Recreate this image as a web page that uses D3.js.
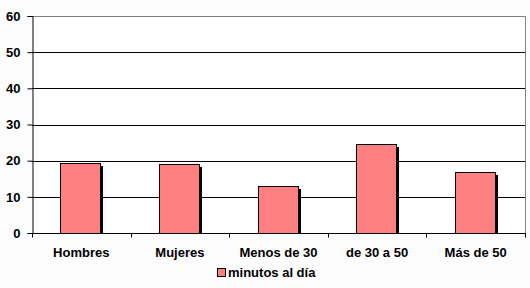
<!DOCTYPE html>
<html lang="es">
<head>
<meta charset="UTF-8">
<title>minutos al día</title>
<script src="https://cdn.jsdelivr.net/npm/d3@7"></script>
<style>
    body { margin: 0; background: #fcfcfc; }
    text { font-family: "Liberation Sans", Arial, sans-serif; font-weight: bold; font-size: 13px; fill: #000; }
</style>
</head>
<body>
<div id="chart"></div>
<script>
    const categories = ["Hombres", "Mujeres", "Menos de 30", "de 30 a 50", "Más de 50"];
    const values = [19.3, 19.0, 12.9, 24.5, 16.8];
    const yTicks = [0, 10, 20, 30, 40, 50, 60];
    const seriesName = "minutos al día";

    const width = 530, height = 288;
    const plot = {left: 32, right: 525, top: 16, bottom: 233};

    const svg = d3.select("#chart").append("svg")
        .attr("width", width)
        .attr("height", height);

    const x = d3.scaleBand()
        .domain(categories)
        .range([plot.left, plot.right]);

    const y = d3.scaleLinear()
        .domain([0, 60])
        .range([plot.bottom, plot.top]);

    // plot area
    svg.append("rect")
        .attr("x", plot.left).attr("y", plot.top)
        .attr("width", plot.right - plot.left).attr("height", plot.bottom - plot.top)
        .attr("fill", "#fff");

    // gridlines
    svg.append("g").selectAll("line")
        .data(yTicks.filter(d => d > 0 && d < 60))
        .join("line")
        .attr("x1", plot.left).attr("x2", plot.right)
        .attr("y1", d => Math.round(y(d)) + 0.5).attr("y2", d => Math.round(y(d)) + 0.5)
        .attr("stroke", "#000");

    // gray top/right border
    svg.append("path")
        .attr("d", `M${plot.left},${plot.top + 0.5}H${plot.right + 0.5}V${plot.bottom}`)
        .attr("fill", "none")
        .attr("stroke", "#808080");

    // bars with shadow
    const barW = 40;
    const bars = svg.append("g").selectAll("g")
        .data(values)
        .join("g")
        .attr("transform", (d, i) => `translate(${Math.round(x(categories[i]) + x.bandwidth() / 2 - barW / 2 - 1)},0)`);

    bars.append("rect")
        .attr("x", 3)
        .attr("y", d => Math.round(y(d)) + 3)
        .attr("width", barW)
        .attr("height", d => plot.bottom - Math.round(y(d)) - 3)
        .attr("fill", "#000");

    bars.append("rect")
        .attr("x", 0.5)
        .attr("y", d => Math.round(y(d)) + 0.5)
        .attr("width", barW)
        .attr("height", d => plot.bottom - Math.round(y(d)))
        .attr("fill", "#ff8080")
        .attr("stroke", "#000");

    // y axis
    const yAxis = svg.append("g")
        .attr("transform", `translate(${plot.left + 0.5},0)`)
        .call(d3.axisLeft(y).tickValues(yTicks).tickSize(5).tickPadding(7));
    yAxis.select(".domain").attr("stroke", "#000");
    yAxis.selectAll("line").attr("stroke", "#000");
    yAxis.selectAll("text").attr("font-size", null).attr("font-family", null);

    // x axis
    const xAxis = svg.append("g")
        .attr("transform", `translate(0,${plot.bottom + 0.5})`);
    xAxis.append("line")
        .attr("x1", plot.left).attr("x2", plot.right + 1)
        .attr("stroke", "#000");
    xAxis.selectAll("line.tick")
        .data(d3.range(categories.length + 1))
        .join("line")
        .attr("class", "tick")
        .attr("x1", i => Math.round(plot.left + i * x.step()) + 0.5)
        .attr("x2", i => Math.round(plot.left + i * x.step()) + 0.5)
        .attr("y1", 0).attr("y2", 4)
        .attr("stroke", "#000");
    xAxis.selectAll("text")
        .data(categories)
        .join("text")
        .attr("x", d => x(d) + x.bandwidth() / 2)
        .attr("y", 23)
        .attr("text-anchor", "middle")
        .text(d => d);

    // legend
    const legend = svg.append("g").attr("transform", "translate(217,268)");
    legend.append("rect")
        .attr("x", 0.5).attr("y", 0.5)
        .attr("width", 8).attr("height", 8)
        .attr("fill", "#ff8080")
        .attr("stroke", "#000");
    legend.append("text")
        .attr("x", 11).attr("y", 9)
        .text(seriesName);
</script>
</body>
</html>
